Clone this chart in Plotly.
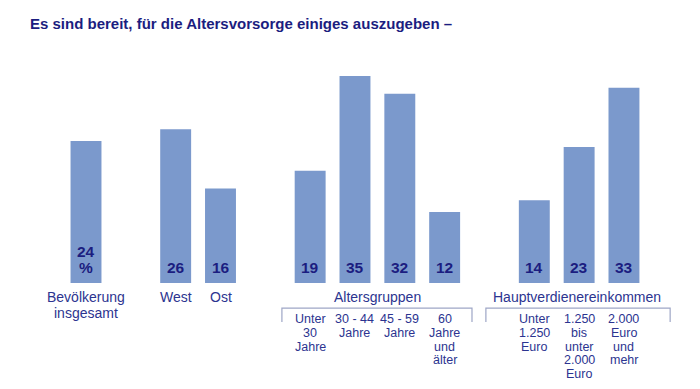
import plotly.graph_objects as go

# ---- data ----
categories = ["Bevölkerung<br>insgesamt", "West", "Ost",
              "Unter<br>30<br>Jahre", "30 - 44<br>Jahre", "45 - 59<br>Jahre", "60<br>Jahre<br>und<br>älter",
              "Unter<br>1.250<br>Euro", "1.250<br>bis<br>unter<br>2.000<br>Euro", "2.000<br>Euro<br>und<br>mehr"]
values = [24, 26, 16, 19, 35, 32, 12, 14, 23, 33]
value_labels = ["24<br>%", "26", "16", "19", "35", "32", "12", "14", "23", "33"]
group_names = ["Altersgruppen", "Hauptverdienereinkommen"]
group_centers = [6.5, 10.95]
title = "Es sind bereit, für die Altersvorsorge einiges auszugeben –"

# slot positions of the bars (groups separated by an empty slot)
xpos = [0, 2, 3, 5, 6, 7, 8, 10, 11, 12]

NAVY = "#1b1d80"
LABEL = "#2c3490"
BAR = "#7b99cc"
LINE = "#9ea6c6"
FONT = "Liberation Sans"

# page body has an 8px margin -> figure is drawn offset by 8px
W, H = 692, 381

fig = go.Figure()
fig.add_trace(go.Bar(x=xpos, y=values, width=0.69, marker=dict(color=BAR, line=dict(width=0)),
                     hoverinfo="skip"))

ann = []


def add_lines(x, text, first, step, size, color, bold=False, up=False):
    lines = text.split("<br>")
    n = len(lines)
    for i, ln in enumerate(lines):
        if up:
            off = first + step * (n - 1 - i)
        else:
            off = -(first + step * i)
        ann.append(dict(x=x, y=0, xref="x", yref="y",
                        text=f"<b>{ln}</b>" if bold else ln, showarrow=False,
                        yanchor="middle", yshift=off,
                        font=dict(family=FONT, size=size, color=color)))


# value labels inside bars at the bottom
for x, t in zip(xpos, value_labels):
    add_lines(x, t, 16, 15.5, 15.5, NAVY, bold=True, up=True)

# top-level category labels (first three)
for i in range(3):
    add_lines(xpos[i], categories[i], 14, 15.5, 14, LABEL)

# sub labels below brackets
for i in range(3, 10):
    add_lines(xpos[i], categories[i], 36, 13.8, 12.5, LABEL)

# group labels
for gx, gname in zip(group_centers, group_names):
    add_lines(gx, gname, 13.5, 14, 14, LABEL)

# title
ann.append(dict(x=20 / W, y=1 - 15 / H, xref="paper", yref="paper", text=f"<b>{title}</b>",
                showarrow=False, xanchor="left", yanchor="middle",
                font=dict(family=FONT, size=15, color=NAVY)))

# brackets
shapes = []
for x0, x1 in [(4.37, 8.61), (8.92, 13.03)]:
    shapes.append(dict(type="path", xref="x", yref="y",
                       path=f"M {x0},-6.6 L {x0},-4.23 L {x1},-4.23 L {x1},-6.6",
                       line=dict(color=LINE, width=1.2)))

fig.update_layout(
    width=W, height=H,
    margin=dict(l=0, r=0, t=0, b=0),
    paper_bgcolor="white", plot_bgcolor="white",
    showlegend=False,
    xaxis=dict(range=[-1.740, 13.696], visible=False, fixedrange=True),
    yaxis=dict(range=[-17.92, 46.50], visible=False, fixedrange=True),
    annotations=ann, shapes=shapes,
)
fig.write_html("out.html")
